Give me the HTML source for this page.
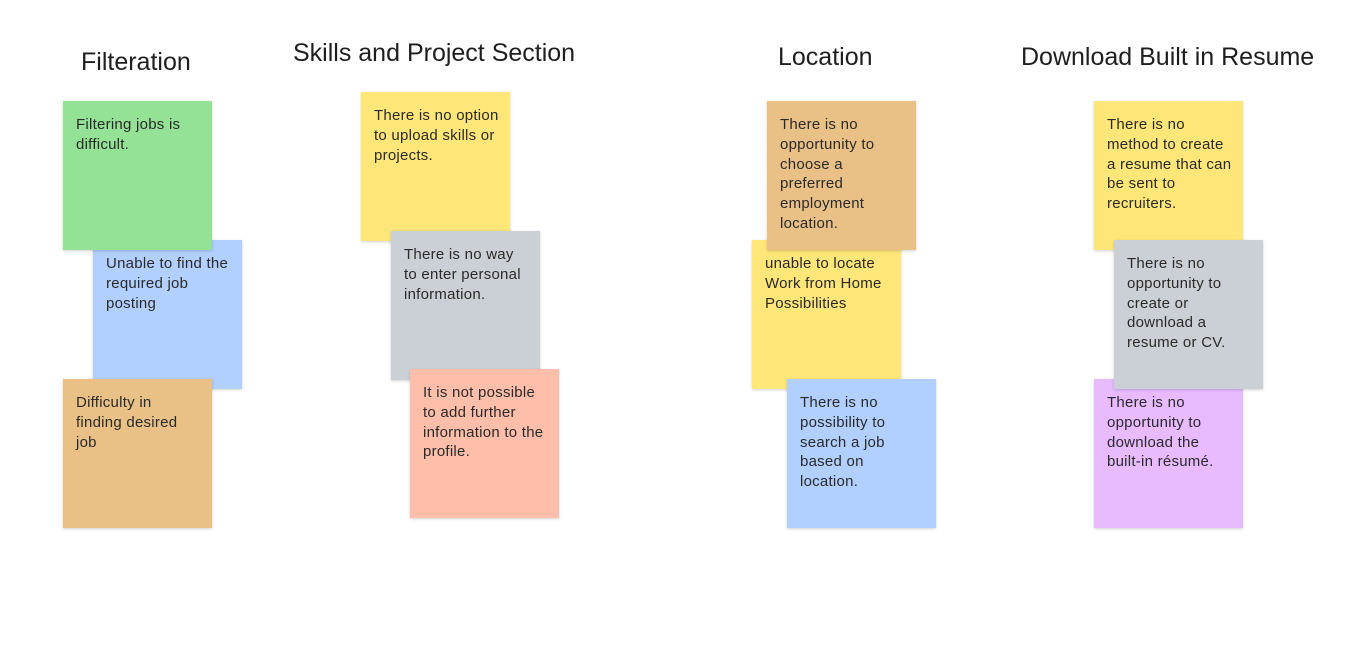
<!DOCTYPE html>
<html><head><meta charset="utf-8"><style>
body{margin:0;width:1360px;height:653px;background:#fff;position:relative;overflow:hidden;font-family:"Liberation Sans",sans-serif;}
.t{position:absolute;font-size:25px;color:#1e1e1e;white-space:nowrap;}
.n{position:absolute;width:149px;height:149px;box-sizing:border-box;padding:14px 12px 0 13px;font-size:15px;letter-spacing:0.25px;line-height:19.8px;color:#2a2a2a;box-shadow:0 1px 3px rgba(0,0,0,.18);}
.w{white-space:nowrap;padding-right:0;}
.g{background:#93e295}.b{background:#b1cfff}.o{background:#e9c186}.y{background:#ffe679}.gr{background:#cbd0d6}.s{background:#ffbeaa}.p{background:#e8baff}
</style></head><body>
<div class="t" style="left:81px;top:48px">Filteration</div>
<div class="t" style="left:293px;top:39px">Skills and Project Section</div>
<div class="t" style="left:778px;top:43px">Location</div>
<div class="t" style="left:1021px;top:43px">Download Built in Resume</div>

<div class="n b" style="left:93px;top:240px;z-index:1">Unable to find the required job posting</div>
<div class="n g" style="left:63px;top:101px;z-index:2">Filtering jobs is difficult.</div>
<div class="n o" style="left:63px;top:379px;z-index:2">Difficulty in<br>finding desired job</div>

<div class="n y w" style="left:361px;top:92px;z-index:1">There is no option<br>to upload skills or<br>projects.</div>
<div class="n gr" style="left:391px;top:231px;z-index:2">There is no way to enter personal information.</div>
<div class="n s" style="left:410px;top:369px;z-index:3">It is not possible to add further information to the profile.</div>

<div class="n y" style="left:752px;top:240px;z-index:1">unable to locate Work from Home Possibilities</div>
<div class="n o" style="left:767px;top:101px;z-index:2">There is no opportunity to choose a preferred employment location.</div>
<div class="n b" style="left:787px;top:379px;z-index:2">There is no possibility to search a job based on location.</div>

<div class="n y w" style="left:1094px;top:101px;z-index:1">There is no<br>method to create<br>a resume that can<br>be sent to<br>recruiters.</div>
<div class="n p" style="left:1094px;top:379px;z-index:1">There is no opportunity to download the built-in résumé.</div>
<div class="n gr" style="left:1114px;top:240px;z-index:2">There is no opportunity to create or download a resume or CV.</div>
</body></html>
